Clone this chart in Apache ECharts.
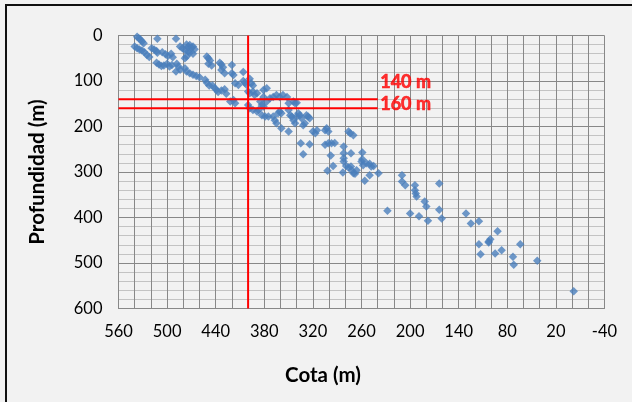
<!DOCTYPE html>
<html>
<head>
<meta charset="utf-8">
<script src="https://cdn.jsdelivr.net/npm/echarts@6/dist/echarts.min.js"></script>
<style>
  html, body { margin: 0; padding: 0; background: #f2f2f2; }
  #chart { width: 632px; height: 402px; }
</style>
</head>
<body>
<div id="chart"></div>
<script>
// Sampled points: elevation (Cota, m) and depth (Profundidad, m)
const cota = [
  537, 535, 533, 531, 529, 540, 537, 534, 531, 528, 525, 522, 512, 489,
  519, 516, 513, 512, 506, 502, 499, 495, 493,
  484, 481, 478, 476, 474, 472, 470, 468, 466, 474, 472, 476, 478, 468,
  513, 510, 507, 504, 500, 497, 494,
  488, 486, 484, 489, 478, 476, 472, 468, 464, 460,
  451, 449, 447, 449, 445, 435, 433, 431, 433, 429,
  453, 451, 448, 444, 441, 439, 437, 433, 429, 427,
  420, 406, 420, 418, 416, 412, 406, 404, 402, 398, 396, 394,
  400, 398, 394, 392, 389, 381, 377, 422, 418, 416,
  400, 398, 394, 389, 387, 385,
  381, 377, 373, 369, 365, 361, 357, 352, 350, 344, 342, 340,
  383, 381, 383, 379, 375, 369, 367, 363, 361, 359, 365, 359, 350,
  350, 348, 346, 344, 342, 340, 338, 336, 334, 332, 330, 328, 326, 324,
  320, 317, 315, 305, 303, 301, 276, 274, 270,
  335, 324, 332, 305, 301, 297, 293, 298, 282, 282, 282, 273, 259, 259,
  302, 295, 282, 279, 276, 273, 272, 270, 268, 266, 283,
  260, 258, 254, 250, 248, 245, 250, 239, 256,
  210, 210, 206, 194, 194, 193, 192, 164, 182, 180,
  228, 200, 189, 178, 164, 161,
  131, 125, 115, 92, 115, 113, 103, 101, 103, 95, 87, 64, 73, 72, 43, -2
];
const profundidad = [
  3, 6, 9, 13, 17, 24, 28, 31, 33, 37, 43, 47, 7, 7,
  28, 31, 34, 38, 37, 41, 45, 40, 48,
  24, 28, 32, 20, 25, 21, 27, 24, 30, 35, 38, 46, 50, 40,
  60, 64, 67, 66, 62, 68, 65,
  62, 68, 75, 79, 72, 79, 83, 86, 89, 92,
  46, 50, 55, 62, 66, 60, 64, 70, 76, 83,
  97, 104, 110, 110, 116, 120, 124, 121, 118, 128,
  65, 80, 83, 87, 105, 109, 100, 104, 108, 95, 105, 110,
  123, 127, 123, 131, 127, 120, 116, 145, 142, 149,
  153, 160, 164, 167, 164, 145,
  135, 145, 138, 135, 131, 135, 131, 135, 149, 145, 149, 148,
  153, 156, 175, 178, 178, 178, 186, 171, 167, 171, 193, 204, 211,
  164, 175, 178, 186, 193, 178, 171, 175, 182, 197, 193, 175, 178, 182,
  211, 215, 208, 208, 204, 211, 211, 215, 219,
  237, 239, 261, 240, 237, 237, 236, 264, 244, 259, 270, 259, 257, 272,
  297, 287, 277, 287, 290, 288, 296, 303, 304, 296, 301,
  277, 285, 281, 282, 288, 287, 307, 303, 319,
  307, 321, 329, 329, 340, 347, 354, 325, 365, 376,
  385, 391, 397, 407, 383, 402,
  391, 413, 408, 430, 459, 481, 453, 448, 455, 479, 472, 459, 486, 504, 495, 562
];

// Axis tick labels
const cotaTicks = [560, 500, 440, 380, 320, 260, 200, 140, 80, 20, -40];
const profundidadTicks = [0, 100, 200, 300, 400, 500, 600];

// Reference lines: one elevation, two depths
const cotaRef = 400;
const profRefs = [140, 160];
const profRefLabels = ['140 m', '160 m'];
const profRefSpan = [560, 240];

const FONT = 'Lato, "Open Sans", sans-serif';
const GRID_DARK = '#888888';
const GRID_LIGHT = '#c3c3c3';
const RED = '#ff0000';

const chart = echarts.init(document.getElementById('chart'), null, { renderer: 'canvas' });

const points = cota.map((c, i) => [c, profundidad[i]]);

// Label style for the depth reference lines
const refLabel = (text, dy) => ({
  show: true,
  position: 'right',
  distance: 2,
  offset: [0, dy],
  formatter: text,
  color: RED,
  fontFamily: 'Lato',
  fontWeight: 'bold',
  fontSize: 18,
  textBorderColor: RED,
  textBorderWidth: 0.6
});

const option = {
  backgroundColor: '#f2f2f2',
  animation: false,
  textStyle: { fontFamily: FONT },
  graphic: [
    {
      type: 'rect',
      shape: { x: 6, y: 5, width: 640, height: 410 },
      style: { fill: 'none', stroke: '#111111', lineWidth: 2 },
      silent: true,
      z: 100
    },
    {
      type: 'text',
      x: 323,
      y: 375,
      silent: true,
      style: {
        text: 'Cota (m)',
        fill: '#000',
        fontFamily: FONT,
        fontWeight: 'bold',
        fontSize: 20.5,
        align: 'center',
        verticalAlign: 'middle'
      }
    }
  ],
  grid: { left: 118.5, top: 35.5, width: 486, height: 273, containLabel: false },
  xAxis: {
    type: 'value',
    inverse: true,
    min: -40,
    max: 560,
    interval: 20,
    axisLine: { onZero: false, lineStyle: { color: GRID_DARK, width: 1 } },
    axisTick: { show: false },
    axisLabel: {
      customValues: cotaTicks,
      margin: 15,
      fontFamily: FONT,
      fontSize: 16.5,
      color: '#000'
    },
    splitLine: { show: true, lineStyle: { color: GRID_DARK, width: 1 } }
  },
  yAxis: {
    type: 'value',
    inverse: true,
    min: 0,
    max: 600,
    interval: 100,
    name: 'Profundidad (m)',
    nameLocation: 'middle',
    nameGap: 71,
    nameTextStyle: { fontFamily: FONT, fontWeight: 'bold', fontSize: 20.5, color: '#000' },
    axisLine: { onZero: false, lineStyle: { color: GRID_DARK, width: 1 } },
    axisTick: { show: false },
    minorTick: { show: false, splitNumber: 5 },
    minorSplitLine: { show: true, lineStyle: { color: GRID_LIGHT, width: 1 } },
    axisLabel: {
      customValues: profundidadTicks,
      margin: 16,
      fontFamily: FONT,
      fontSize: 16.5,
      color: '#000'
    },
    splitLine: { show: true, lineStyle: { color: GRID_DARK, width: 1 } }
  },
  series: [
    {
      name: 'Profundidad',
      type: 'scatter',
      data: points,
      symbol: 'diamond',
      symbolSize: 8.5,
      itemStyle: { color: '#4a7ebb' },
      z: 3
    },
    {
      type: 'line',
      data: [[cotaRef, 0], [cotaRef, 600]],
      symbol: 'none',
      lineStyle: { color: RED, width: 2 },
      silent: true,
      z: 4
    },
    ...profRefs.map((p) => ({
      type: 'line',
      data: [[profRefSpan[0], p], [profRefSpan[1], p]],
      symbol: 'none',
      lineStyle: { color: RED, width: 2 },
      silent: true,
      z: 4
    })),
    {
      type: 'scatter',
      data: profRefs.map((p, i) => ({
        value: [profRefSpan[1], p],
        label: refLabel(profRefLabels[i], i === 0 ? -17 : -4)
      })),
      symbolSize: 1,
      itemStyle: { color: 'rgba(0,0,0,0)' },
      silent: true,
      z: 5
    }
  ]
};

chart.setOption(option);
</script>
</body>
</html>
